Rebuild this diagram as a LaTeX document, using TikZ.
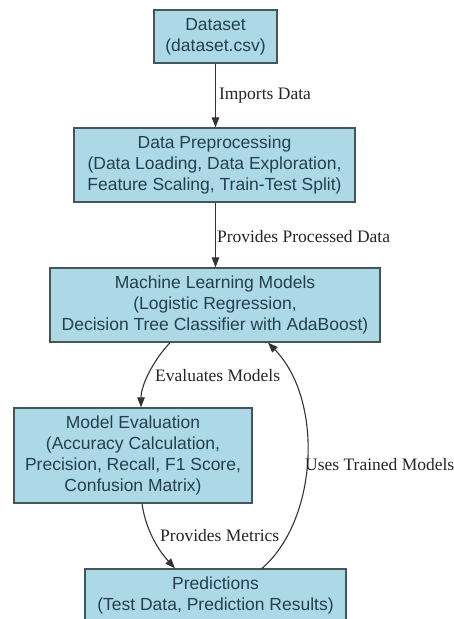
\documentclass[tikz,border=0pt]{standalone}
\usepackage{fontspec}
\setmainfont{Liberation Serif}
\newfontfamily\boxfont{Liberation Sans}
\usetikzlibrary{arrows.meta}
\definecolor{boxfill}{HTML}{ADD8E6}
\definecolor{boxline}{HTML}{44555C}
\definecolor{boxtext}{HTML}{24404E}
\definecolor{edgecol}{HTML}{333333}
\begin{document}
\begin{tikzpicture}[x=1pt,y=-1pt,
  box/.style={draw=boxline, line width=1.3pt, fill=boxfill, text=boxtext,
    font=\boxfont\fontsize{17.5}{21.3}\selectfont, align=center, inner sep=0pt},
  lbl/.style={font=\fontsize{17.5}{20}\selectfont, text=black!85, inner sep=0pt, anchor=west},
  conn/.style={draw=edgecol, line width=1.1pt, -{Triangle[length=10pt,width=7.5pt]}}]
\useasboundingbox (0,0) rectangle (453,619);
\fill[white] (0,0) rectangle (453,619);
\clip (0,0) rectangle (453,619);

\node[box, minimum width=123pt, minimum height=53pt] (ds) at (215.5,36.5) {Dataset\\(dataset.csv)};
\node[box, minimum width=281pt, minimum height=74pt] (pp) at (214.5,165) {Data Preprocessing\\(Data Loading, Data Exploration,\\Feature Scaling, Train-Test Split)};
\node[box, minimum width=330pt, minimum height=74pt] (ml) at (215,305) {Machine Learning Models\\(Logistic Regression,\\Decision Tree Classifier with AdaBoost)};
\node[box, minimum width=238pt, minimum height=95pt] (me) at (133,455.5) {Model Evaluation\\(Accuracy Calculation,\\Precision, Recall, F1 Score,\\Confusion Matrix)};
\node[box, minimum width=261pt, minimum height=53pt] (pr) at (215.5,595.5) {Predictions\\(Test Data, Prediction Results)};

\draw[conn] (ds.south) -- (ds.south |- pp.north) node[lbl, midway, xshift=3pt] {Imports Data};
\draw[conn] (ds.south |- pp.south) -- (ds.south |- ml.north) node[lbl, midway, xshift=1pt, yshift=-2pt] {Provides Processed Data};
\draw[conn] ([xshift=-45pt]ml.south) .. controls (152,362) and (141,386) .. ([xshift=8pt]me.north);
\node[lbl] (l3) at (155,376) {Evaluates Models};
\draw[conn] ([xshift=9pt]me.south) .. controls (146,532) and (160,552) .. ([xshift=-40.5pt]pr.north);
\node[lbl] (l4) at (160,536) {Provides Metrics};
\draw[conn] ([xshift=46.5pt]pr.north) .. controls (318,520) and (324,400) .. ([xshift=53pt]ml.south);
\node[lbl] (l5) at (305,465) {Uses Trained Models};
\end{tikzpicture}
\end{document}
